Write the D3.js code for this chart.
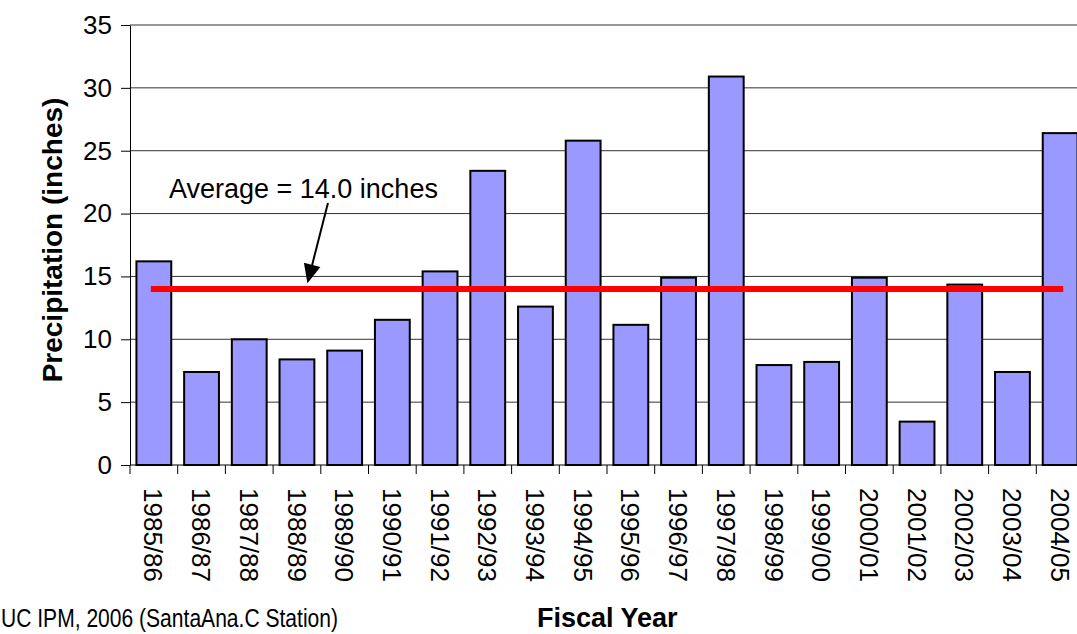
<!DOCTYPE html>
<html>
<head>
<meta charset="utf-8">
<script src="https://cdn.jsdelivr.net/npm/d3@7"></script>
<style>
  body { margin: 0; padding: 0; background: #fff; }
  svg { display: block; font-family: "Liberation Sans", Arial, Helvetica, sans-serif; }
</style>
</head>
<body>
<svg id="chart" width="1077" height="634"></svg>
<script>
// fiscal years and rainfall (inches)
const years = ["1985/86", "1986/87", "1987/88", "1988/89", "1989/90", "1990/91", "1991/92",
  "1992/93", "1993/94", "1994/95", "1995/96", "1996/97", "1997/98", "1998/99", "1999/00",
  "2000/01", "2001/02", "2002/03", "2003/04", "2004/05"];
const rainfall = [16.2, 7.4, 10.0, 8.4, 9.1, 11.55, 15.4, 23.4, 12.6, 25.8, 11.15, 14.9, 30.9,
  7.95, 8.2, 14.9, 3.45, 14.35, 7.4, 26.4];
const average = 14.0;
const yTicks = [0, 5, 10, 15, 20, 25, 30, 35];

// annotation arrow, in band / value units
const arrowTail = { band: 4.15, value: 20.85 };
const arrowTip = { band: 3.72, value: 14.45 };

const svg = d3.select("#chart");
const plotLeft = 130, plotRight = 1084, plotTop = 25, plotBottom = 465;

const x = d3.scaleBand().domain(years).range([plotLeft, plotRight])
  .paddingInner(0.27).paddingOuter(0.135);
const bandPos = d3.scaleLinear().domain([0, years.length]).range([plotLeft, plotRight]);
const y = d3.scaleLinear().domain([0, 35]).range([plotBottom, plotTop]);

// gridlines
svg.append("g").selectAll("line")
  .data(yTicks.filter(d => d > 0))
  .join("line")
  .attr("x1", plotLeft).attr("x2", plotRight)
  .attr("y1", d => y(d)).attr("y2", d => y(d))
  .attr("stroke", "#333").attr("stroke-width", 1);

// bars
svg.append("g").selectAll("rect")
  .data(rainfall)
  .join("rect")
  .attr("x", (d, i) => x(years[i]))
  .attr("y", d => y(d))
  .attr("width", x.bandwidth())
  .attr("height", d => y(0) - y(d))
  .attr("fill", "#9999FF")
  .attr("stroke", "#000")
  .attr("stroke-width", 2);

// y axis
const yAxis = svg.append("g")
  .attr("transform", `translate(${plotLeft},0)`)
  .call(d3.axisLeft(y).tickValues(yTicks).tickSize(9).tickPadding(9).tickSizeOuter(0));
yAxis.select(".domain").attr("stroke", "#000");
yAxis.selectAll(".tick line").attr("stroke", "#000");
yAxis.selectAll("text")
  .attr("font-size", "26px").attr("fill", "#000")
  .attr("font-family", "Liberation Sans, Arial, sans-serif");

// x axis line and boundary ticks
svg.append("line")
  .attr("x1", plotLeft).attr("x2", plotRight)
  .attr("y1", y(0)).attr("y2", y(0))
  .attr("stroke", "#000").attr("stroke-width", 1);
svg.append("g").selectAll("line")
  .data(d3.range(years.length + 1))
  .join("line")
  .attr("x1", d => bandPos(d)).attr("x2", d => bandPos(d))
  .attr("y1", y(0)).attr("y2", y(0) + 9)
  .attr("stroke", "#000");

// category labels, rotated
svg.append("g").selectAll("text")
  .data(years)
  .join("text")
  .attr("transform", d => `translate(${x(d) + x.bandwidth() / 2},488) rotate(90)`)
  .attr("dy", "0.36em")
  .attr("font-size", "26px")
  .attr("fill", "#000")
  .text(d => d);

// average line
svg.append("line")
  .attr("x1", x(years[0]) + x.bandwidth() / 2)
  .attr("x2", x(years[years.length - 1]) + x.bandwidth() / 2)
  .attr("y1", y(average)).attr("y2", y(average))
  .attr("stroke", "#FF0000").attr("stroke-width", 6)
  .attr("stroke-linecap", "square");

// annotation
const tx = bandPos(arrowTail.band), ty = y(arrowTail.value);
const px = bandPos(arrowTip.band), py = y(arrowTip.value);
const ang = Math.atan2(py - ty, px - tx);
const headLen = 19, headHalf = 8.5;
const bx = px - headLen * Math.cos(ang), by = py - headLen * Math.sin(ang);
svg.append("line")
  .attr("x1", tx).attr("y1", ty).attr("x2", bx).attr("y2", by)
  .attr("stroke", "#000").attr("stroke-width", 2);
svg.append("path")
  .attr("d", d3.line()([
    [px, py],
    [bx + headHalf * Math.sin(ang), by - headHalf * Math.cos(ang)],
    [bx - headHalf * Math.sin(ang), by + headHalf * Math.cos(ang)]
  ]) + "Z")
  .attr("fill", "#000");

svg.append("text")
  .attr("x", tx - 159).attr("y", ty - 5)
  .attr("font-size", "27px")
  .attr("fill", "#000")
  .text("Average = " + average.toFixed(1) + " inches");

// axis titles
svg.append("text")
  .attr("transform", `translate(52,${(plotTop + plotBottom) / 2 - 5}) rotate(-90)`)
  .attr("text-anchor", "middle")
  .attr("dy", "0.35em")
  .attr("font-size", "28px")
  .attr("font-weight", "bold")
  .attr("fill", "#000")
  .text("Precipitation (inches)");

svg.append("text")
  .attr("x", 537).attr("y", 627)
  .attr("font-size", "27px")
  .attr("font-weight", "bold")
  .attr("fill", "#000")
  .text("Fiscal Year");

svg.append("text")
  .attr("x", 1).attr("y", 627)
  .attr("font-size", "25px")
  .attr("fill", "#000")
  .attr("textLength", 337)
  .attr("lengthAdjust", "spacingAndGlyphs")
  .text("UC IPM, 2006 (SantaAna.C Station)");
</script>
</body>
</html>
